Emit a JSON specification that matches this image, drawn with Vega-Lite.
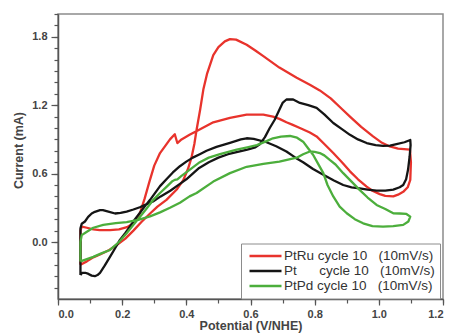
{
  "$schema": "https://vega.github.io/schema/vega-lite/v6.json",
  "width": 385,
  "height": 285,
  "autosize": {"type": "none"},
  "padding": {"left": 58, "top": 14, "right": 8, "bottom": 34},
  "background": "white",
  "config": {
    "font": "Liberation Sans",
    "view": {"stroke": "#8c8c8c", "strokeWidth": 1.5}
  },
  "data": {"values": [
    {"s":"PtRu","x":0.07,"y":-0.20},{"s":"PtRu","x":0.09,"y":-0.17},{"s":"PtRu","x":0.11,"y":-0.135},{"s":"PtRu","x":0.131,"y":-0.11},{"s":"PtRu","x":0.16,"y":-0.07},{"s":"PtRu","x":0.183,"y":-0.026},{"s":"PtRu","x":0.21,"y":0.03},{"s":"PtRu","x":0.235,"y":0.10},{"s":"PtRu","x":0.26,"y":0.175},{"s":"PtRu","x":0.287,"y":0.25},{"s":"PtRu","x":0.31,"y":0.31},{"s":"PtRu","x":0.338,"y":0.37},{"s":"PtRu","x":0.37,"y":0.46},{"s":"PtRu","x":0.39,"y":0.54},{"s":"PtRu","x":0.405,"y":0.64},{"s":"PtRu","x":0.416,"y":0.74},{"s":"PtRu","x":0.425,"y":0.86},{"s":"PtRu","x":0.432,"y":0.985},{"s":"PtRu","x":0.443,"y":1.16},{"s":"PtRu","x":0.453,"y":1.337},{"s":"PtRu","x":0.465,"y":1.48},{"s":"PtRu","x":0.484,"y":1.64},{"s":"PtRu","x":0.50,"y":1.71},{"s":"PtRu","x":0.52,"y":1.76},{"s":"PtRu","x":0.536,"y":1.78},{"s":"PtRu","x":0.555,"y":1.775},{"s":"PtRu","x":0.588,"y":1.73},{"s":"PtRu","x":0.615,"y":1.68},{"s":"PtRu","x":0.64,"y":1.63},{"s":"PtRu","x":0.69,"y":1.53},{"s":"PtRu","x":0.744,"y":1.44},{"s":"PtRu","x":0.785,"y":1.38},{"s":"PtRu","x":0.816,"y":1.33},{"s":"PtRu","x":0.85,"y":1.26},{"s":"PtRu","x":0.88,"y":1.18},{"s":"PtRu","x":0.91,"y":1.10},{"s":"PtRu","x":0.945,"y":1.01},{"s":"PtRu","x":0.982,"y":0.926},{"s":"PtRu","x":1.01,"y":0.87},{"s":"PtRu","x":1.034,"y":0.838},{"s":"PtRu","x":1.06,"y":0.82},{"s":"PtRu","x":1.097,"y":0.81},{"s":"PtRu","x":1.1,"y":0.70},{"s":"PtRu","x":1.098,"y":0.545},{"s":"PtRu","x":1.09,"y":0.48},{"s":"PtRu","x":1.076,"y":0.44},{"s":"PtRu","x":1.06,"y":0.415},{"s":"PtRu","x":1.045,"y":0.40},{"s":"PtRu","x":1.02,"y":0.405},{"s":"PtRu","x":1.003,"y":0.42},{"s":"PtRu","x":0.98,"y":0.45},{"s":"PtRu","x":0.962,"y":0.486},{"s":"PtRu","x":0.935,"y":0.55},{"s":"PtRu","x":0.91,"y":0.62},{"s":"PtRu","x":0.885,"y":0.70},{"s":"PtRu","x":0.858,"y":0.78},{"s":"PtRu","x":0.83,"y":0.86},{"s":"PtRu","x":0.806,"y":0.926},{"s":"PtRu","x":0.785,"y":0.96},{"s":"PtRu","x":0.754,"y":1.0},{"s":"PtRu","x":0.73,"y":1.03},{"s":"PtRu","x":0.712,"y":1.05},{"s":"PtRu","x":0.69,"y":1.08},{"s":"PtRu","x":0.67,"y":1.10},{"s":"PtRu","x":0.64,"y":1.117},{"s":"PtRu","x":0.588,"y":1.117},{"s":"PtRu","x":0.536,"y":1.088},{"s":"PtRu","x":0.484,"y":1.05},{"s":"PtRu","x":0.44,"y":0.985},{"s":"PtRu","x":0.41,"y":0.94},{"s":"PtRu","x":0.385,"y":0.90},{"s":"PtRu","x":0.372,"y":0.868},{"s":"PtRu","x":0.364,"y":0.945},{"s":"PtRu","x":0.349,"y":0.90},{"s":"PtRu","x":0.318,"y":0.78},{"s":"PtRu","x":0.30,"y":0.67},{"s":"PtRu","x":0.285,"y":0.53},{"s":"PtRu","x":0.27,"y":0.38},{"s":"PtRu","x":0.255,"y":0.25},{"s":"PtRu","x":0.235,"y":0.164},{"s":"PtRu","x":0.215,"y":0.13},{"s":"PtRu","x":0.19,"y":0.11},{"s":"PtRu","x":0.162,"y":0.105},{"s":"PtRu","x":0.13,"y":0.105},{"s":"PtRu","x":0.11,"y":0.11},{"s":"PtRu","x":0.09,"y":0.125},{"s":"PtRu","x":0.074,"y":0.135},{"s":"PtRu","x":0.07,"y":0.10},{"s":"PtRu","x":0.07,"y":-0.20},
    {"s":"Pt","x":0.07,"y":-0.29},{"s":"Pt","x":0.075,"y":-0.27},{"s":"Pt","x":0.085,"y":-0.27},{"s":"Pt","x":0.095,"y":-0.28},{"s":"Pt","x":0.105,"y":-0.295},{"s":"Pt","x":0.115,"y":-0.30},{"s":"Pt","x":0.123,"y":-0.29},{"s":"Pt","x":0.131,"y":-0.27},{"s":"Pt","x":0.145,"y":-0.21},{"s":"Pt","x":0.162,"y":-0.13},{"s":"Pt","x":0.178,"y":-0.055},{"s":"Pt","x":0.193,"y":0.018},{"s":"Pt","x":0.21,"y":0.08},{"s":"Pt","x":0.224,"y":0.135},{"s":"Pt","x":0.24,"y":0.2},{"s":"Pt","x":0.255,"y":0.255},{"s":"Pt","x":0.27,"y":0.31},{"s":"Pt","x":0.287,"y":0.37},{"s":"Pt","x":0.30,"y":0.42},{"s":"Pt","x":0.318,"y":0.49},{"s":"Pt","x":0.338,"y":0.55},{"s":"Pt","x":0.358,"y":0.61},{"s":"Pt","x":0.38,"y":0.665},{"s":"Pt","x":0.40,"y":0.705},{"s":"Pt","x":0.42,"y":0.74},{"s":"Pt","x":0.442,"y":0.77},{"s":"Pt","x":0.463,"y":0.80},{"s":"Pt","x":0.494,"y":0.835},{"s":"Pt","x":0.536,"y":0.87},{"s":"Pt","x":0.57,"y":0.90},{"s":"Pt","x":0.588,"y":0.91},{"s":"Pt","x":0.61,"y":0.905},{"s":"Pt","x":0.65,"y":0.875},{"s":"Pt","x":0.68,"y":0.84},{"s":"Pt","x":0.712,"y":0.794},{"s":"Pt","x":0.74,"y":0.74},{"s":"Pt","x":0.764,"y":0.70},{"s":"Pt","x":0.795,"y":0.64},{"s":"Pt","x":0.82,"y":0.60},{"s":"Pt","x":0.837,"y":0.574},{"s":"Pt","x":0.86,"y":0.54},{"s":"Pt","x":0.889,"y":0.50},{"s":"Pt","x":0.915,"y":0.48},{"s":"Pt","x":0.94,"y":0.47},{"s":"Pt","x":0.965,"y":0.46},{"s":"Pt","x":0.993,"y":0.451},{"s":"Pt","x":1.02,"y":0.45},{"s":"Pt","x":1.045,"y":0.46},{"s":"Pt","x":1.065,"y":0.48},{"s":"Pt","x":1.076,"y":0.50},{"s":"Pt","x":1.085,"y":0.55},{"s":"Pt","x":1.091,"y":0.633},{"s":"Pt","x":1.096,"y":0.75},{"s":"Pt","x":1.099,"y":0.85},{"s":"Pt","x":1.098,"y":0.895},{"s":"Pt","x":1.08,"y":0.875},{"s":"Pt","x":1.055,"y":0.859},{"s":"Pt","x":1.035,"y":0.845},{"s":"Pt","x":1.013,"y":0.844},{"s":"Pt","x":0.99,"y":0.85},{"s":"Pt","x":0.962,"y":0.868},{"s":"Pt","x":0.935,"y":0.90},{"s":"Pt","x":0.91,"y":0.94},{"s":"Pt","x":0.885,"y":0.99},{"s":"Pt","x":0.858,"y":1.044},{"s":"Pt","x":0.83,"y":1.12},{"s":"Pt","x":0.806,"y":1.176},{"s":"Pt","x":0.78,"y":1.20},{"s":"Pt","x":0.754,"y":1.22},{"s":"Pt","x":0.733,"y":1.25},{"s":"Pt","x":0.712,"y":1.25},{"s":"Pt","x":0.70,"y":1.22},{"s":"Pt","x":0.69,"y":1.16},{"s":"Pt","x":0.675,"y":1.07},{"s":"Pt","x":0.66,"y":1.0},{"s":"Pt","x":0.645,"y":0.92},{"s":"Pt","x":0.63,"y":0.86},{"s":"Pt","x":0.615,"y":0.83},{"s":"Pt","x":0.59,"y":0.81},{"s":"Pt","x":0.56,"y":0.79},{"s":"Pt","x":0.53,"y":0.77},{"s":"Pt","x":0.50,"y":0.74},{"s":"Pt","x":0.47,"y":0.70},{"s":"Pt","x":0.44,"y":0.65},{"s":"Pt","x":0.42,"y":0.60},{"s":"Pt","x":0.40,"y":0.55},{"s":"Pt","x":0.38,"y":0.51},{"s":"Pt","x":0.35,"y":0.45},{"s":"Pt","x":0.32,"y":0.40},{"s":"Pt","x":0.296,"y":0.355},{"s":"Pt","x":0.275,"y":0.33},{"s":"Pt","x":0.255,"y":0.305},{"s":"Pt","x":0.235,"y":0.285},{"s":"Pt","x":0.214,"y":0.267},{"s":"Pt","x":0.195,"y":0.255},{"s":"Pt","x":0.178,"y":0.25},{"s":"Pt","x":0.157,"y":0.267},{"s":"Pt","x":0.14,"y":0.28},{"s":"Pt","x":0.131,"y":0.28},{"s":"Pt","x":0.115,"y":0.265},{"s":"Pt","x":0.105,"y":0.25},{"s":"Pt","x":0.094,"y":0.22},{"s":"Pt","x":0.084,"y":0.18},{"s":"Pt","x":0.074,"y":0.16},{"s":"Pt","x":0.07,"y":0.12},{"s":"Pt","x":0.07,"y":-0.29},
    {"s":"PtPd","x":0.07,"y":-0.17},{"s":"PtPd","x":0.09,"y":-0.15},{"s":"PtPd","x":0.11,"y":-0.13},{"s":"PtPd","x":0.135,"y":-0.10},{"s":"PtPd","x":0.162,"y":-0.07},{"s":"PtPd","x":0.19,"y":0.0},{"s":"PtPd","x":0.214,"y":0.077},{"s":"PtPd","x":0.235,"y":0.15},{"s":"PtPd","x":0.255,"y":0.22},{"s":"PtPd","x":0.275,"y":0.29},{"s":"PtPd","x":0.297,"y":0.37},{"s":"PtPd","x":0.318,"y":0.43},{"s":"PtPd","x":0.339,"y":0.486},{"s":"PtPd","x":0.355,"y":0.53},{"s":"PtPd","x":0.364,"y":0.545},{"s":"PtPd","x":0.372,"y":0.55},{"s":"PtPd","x":0.385,"y":0.58},{"s":"PtPd","x":0.41,"y":0.633},{"s":"PtPd","x":0.442,"y":0.70},{"s":"PtPd","x":0.47,"y":0.74},{"s":"PtPd","x":0.505,"y":0.77},{"s":"PtPd","x":0.557,"y":0.81},{"s":"PtPd","x":0.59,"y":0.83},{"s":"PtPd","x":0.62,"y":0.85},{"s":"PtPd","x":0.65,"y":0.885},{"s":"PtPd","x":0.67,"y":0.91},{"s":"PtPd","x":0.695,"y":0.925},{"s":"PtPd","x":0.723,"y":0.93},{"s":"PtPd","x":0.745,"y":0.915},{"s":"PtPd","x":0.764,"y":0.88},{"s":"PtPd","x":0.78,"y":0.82},{"s":"PtPd","x":0.795,"y":0.765},{"s":"PtPd","x":0.81,"y":0.69},{"s":"PtPd","x":0.827,"y":0.604},{"s":"PtPd","x":0.84,"y":0.50},{"s":"PtPd","x":0.858,"y":0.40},{"s":"PtPd","x":0.878,"y":0.31},{"s":"PtPd","x":0.9,"y":0.252},{"s":"PtPd","x":0.925,"y":0.20},{"s":"PtPd","x":0.951,"y":0.164},{"s":"PtPd","x":0.98,"y":0.14},{"s":"PtPd","x":1.013,"y":0.135},{"s":"PtPd","x":1.045,"y":0.14},{"s":"PtPd","x":1.076,"y":0.15},{"s":"PtPd","x":1.092,"y":0.18},{"s":"PtPd","x":1.098,"y":0.223},{"s":"PtPd","x":1.086,"y":0.246},{"s":"PtPd","x":1.065,"y":0.25},{"s":"PtPd","x":1.045,"y":0.252},{"s":"PtPd","x":1.02,"y":0.29},{"s":"PtPd","x":0.993,"y":0.325},{"s":"PtPd","x":0.965,"y":0.39},{"s":"PtPd","x":0.94,"y":0.457},{"s":"PtPd","x":0.915,"y":0.53},{"s":"PtPd","x":0.889,"y":0.604},{"s":"PtPd","x":0.865,"y":0.68},{"s":"PtPd","x":0.847,"y":0.72},{"s":"PtPd","x":0.83,"y":0.76},{"s":"PtPd","x":0.816,"y":0.78},{"s":"PtPd","x":0.8,"y":0.79},{"s":"PtPd","x":0.785,"y":0.794},{"s":"PtPd","x":0.764,"y":0.77},{"s":"PtPd","x":0.744,"y":0.74},{"s":"PtPd","x":0.69,"y":0.706},{"s":"PtPd","x":0.64,"y":0.686},{"s":"PtPd","x":0.588,"y":0.66},{"s":"PtPd","x":0.536,"y":0.604},{"s":"PtPd","x":0.484,"y":0.53},{"s":"PtPd","x":0.432,"y":0.43},{"s":"PtPd","x":0.41,"y":0.40},{"s":"PtPd","x":0.38,"y":0.345},{"s":"PtPd","x":0.349,"y":0.30},{"s":"PtPd","x":0.318,"y":0.26},{"s":"PtPd","x":0.287,"y":0.225},{"s":"PtPd","x":0.25,"y":0.195},{"s":"PtPd","x":0.214,"y":0.175},{"s":"PtPd","x":0.18,"y":0.165},{"s":"PtPd","x":0.141,"y":0.15},{"s":"PtPd","x":0.11,"y":0.125},{"s":"PtPd","x":0.09,"y":0.09},{"s":"PtPd","x":0.074,"y":0.06},{"s":"PtPd","x":0.07,"y":0.0},{"s":"PtPd","x":0.07,"y":-0.17}
  ]},
  "layer": [
    {
      "mark": {"type": "point", "opacity": 0},
      "encoding": {
        "x": {"field": "x", "type": "quantitative", "scale": {"domain": [0, 1.2], "nice": false, "zero": false},
          "axis": {"orient": "bottom", "values": [0,0.1,0.2,0.3,0.4,0.5,0.6,0.7,0.8,0.9,1.0,1.1,1.2], "labels": false, "domain": false, "grid": false, "title": null, "tickSize": 4, "tickColor": "#555", "tickWidth": 1.2}},
        "y": {"field": "y", "type": "quantitative", "scale": {"domain": [-0.5, 2.0], "nice": false, "zero": false},
          "axis": {"orient": "left", "values": [-0.4,-0.3,-0.2,-0.1,0,0.1,0.2,0.3,0.4,0.5,0.6,0.7,0.8,0.9,1.0,1.1,1.2,1.3,1.4,1.5,1.6,1.7,1.8,1.9,2.0], "labels": false, "domain": false, "grid": false, "title": null, "tickSize": 4, "tickColor": "#555", "tickWidth": 1.2}}
      }
    },
    {
      "mark": {"type": "line", "strokeWidth": 2.3, "strokeJoin": "round"},
      "encoding": {
        "x": {"field": "x", "type": "quantitative", "scale": {"domain": [0, 1.2], "nice": false, "zero": false},
          "axis": {"orient": "bottom", "values": [0,0.2,0.4,0.6,0.8,1.0,1.2], "format": ".1f", "grid": false, "tickSize": 6, "tickColor": "#555", "tickWidth": 1.2, "domainColor": "#555", "domainWidth": 1.5, "labelFont": "Liberation Sans", "labelFontWeight": "bold", "labelFontSize": 11, "labelColor": "#444", "labelPadding": 3, "title": "Potential (V/NHE)", "titleFont": "Liberation Sans", "titleFontWeight": "bold", "titleFontSize": 12.5, "titleColor": "#444", "titlePadding": 0}},
        "y": {"field": "y", "type": "quantitative", "scale": {"domain": [-0.5, 2.0], "nice": false, "zero": false},
          "axis": {"orient": "left", "values": [0,0.6,1.2,1.8], "format": ".1f", "grid": false, "tickSize": 7, "tickColor": "#555", "tickWidth": 1.2, "domainColor": "#555", "domainWidth": 1.5, "labelFont": "Liberation Sans", "labelFontWeight": "bold", "labelFontSize": 11, "labelColor": "#444", "labelPadding": 4, "title": "Current (mA)", "titleFont": "Liberation Sans", "titleFontWeight": "bold", "titleFontSize": 12.5, "titleColor": "#444", "titlePadding": 6, "titleY": 136}},
        "order": {"value": null},
        "color": {"field": "s", "type": "nominal",
          "scale": {"domain": ["PtRu", "Pt", "PtPd"], "range": ["#e8332c", "#151515", "#4cae3c"]},
          "legend": {"orient": "none", "legendX": 183, "legendY": 229.5, "title": null, "symbolType": "stroke", "symbolSize": 1024, "symbolStrokeWidth": 2.5, "labelFont": "Liberation Sans", "labelFontSize": 13.5, "labelColor": "#333", "labelOffset": 1, "padding": 5, "symbolOffset": 2, "rowPadding": 0, "clipHeight": 15, "strokeColor": "#8c8c8c", "fillColor": "white", "labelLimit": 300,
            "labelExpr": "datum.label == 'PtRu' ? 'PtRu cycle 10\u00a0\u00a0\u00a0(10mV/s)\u00a0' : datum.label == 'Pt' ? 'Pt\u00a0\u00a0\u00a0\u00a0\u00a0\u00a0cycle 10\u00a0\u00a0\u00a0(10mV/s)\u00a0' : 'PtPd cycle 10\u00a0\u00a0\u00a0(10mV/s)\u00a0'"}}
      }
    }
  ],
  "resolve": {"axis": {"x": "independent", "y": "independent"}}
}
